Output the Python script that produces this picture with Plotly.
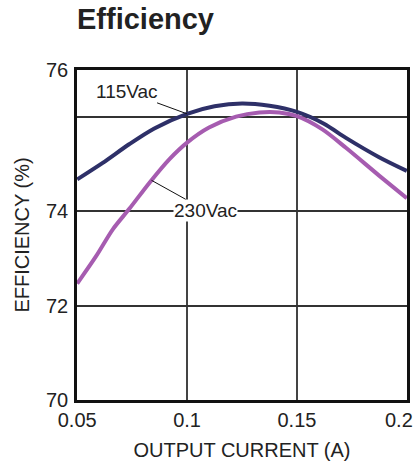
import plotly.graph_objects as go

current_115 = [0.05, 0.0616, 0.0738, 0.0851, 0.1, 0.1125, 0.125, 0.1375, 0.15, 0.1623, 0.1723, 0.1874, 0.2]
eff_115 = [74.68, 75.03, 75.43, 75.76, 76.07, 76.23, 76.29, 76.24, 76.11, 75.86, 75.56, 75.15, 74.86]

current_230 = [0.05, 0.0586, 0.0662, 0.0738, 0.0829, 0.092, 0.1, 0.11, 0.1223, 0.1329, 0.142, 0.15, 0.1616, 0.1723, 0.1874, 0.2]
eff_230 = [72.47, 73.05, 73.62, 74.06, 74.61, 75.11, 75.46, 75.78, 76.01, 76.10, 76.10, 76.02, 75.74, 75.35, 74.76, 74.28]

x_ticks = [0.05, 0.1, 0.15, 0.2]
x_ticktext = ["0.05", "0.1", "0.15", ""]
last_x_tick = "0.2"
y_ticks = [70, 72, 74, 76, 77]
y_ticktext = ["70", "72", "74", "", "76"]

FONT = "Liberation Sans, Arial, sans-serif"

fig = go.Figure()
fig.add_trace(go.Scatter(x=current_115, y=eff_115, mode="lines",
                         line=dict(color="#2e3068", width=4, shape="spline", smoothing=0.8),
                         showlegend=False, hoverinfo="skip"))
fig.add_trace(go.Scatter(x=current_230, y=eff_230, mode="lines",
                         line=dict(color="#a65cb0", width=4, shape="spline", smoothing=0.8),
                         showlegend=False, hoverinfo="skip"))

fig.add_annotation(x=0.1, y=76.07, text="115Vac", showarrow=True, arrowhead=0, arrowwidth=1, arrowcolor="#111",
                   ax=-60, ay=-22, font=dict(size=19, color="#222", family=FONT), bgcolor="white", borderpad=0)
fig.add_annotation(x=0.0838, y=74.66, text="230Vac", showarrow=True, arrowhead=0, arrowwidth=1, arrowcolor="#111",
                   ax=54, ay=30, font=dict(size=19, color="#222", family=FONT), bgcolor="white", borderpad=0)
# last x tick label, right-aligned so it stays inside the picture as in the reference
fig.add_annotation(x=x_ticks[-1], xref="x", y=0, yref="paper", text=last_x_tick, showarrow=False,
                   xanchor="right", yanchor="top", xshift=8, yshift=-7,
                   font=dict(size=20, color="#222", family=FONT))

fig.update_layout(
    width=416, height=464,
    margin=dict(l=77, r=9, t=70, b=64),
    paper_bgcolor="white", plot_bgcolor="white",
    font=dict(family=FONT, color="#222"),
    title=dict(text="<b>Efficiency</b>", x=77/416, xanchor="left", xref="container",
               y=1-19/464, yanchor="middle", yref="container", font=dict(size=29, color="#222", family=FONT)),
    xaxis=dict(range=[0.0499, 0.2001], tickvals=x_ticks, ticktext=x_ticktext, showgrid=True, gridcolor="#444", gridwidth=1.5,
               showline=True, linecolor="#111", linewidth=2.5, mirror=True, zeroline=False, automargin=False,
               ticks="", tickfont=dict(size=20), ticklabeloverflow="allow",
               title=dict(text="OUTPUT CURRENT (A)", font=dict(size=20), standoff=14)),
    yaxis=dict(range=[70, 77], tickvals=y_ticks, ticktext=y_ticktext, showgrid=True, gridcolor="#333", gridwidth=1.5,
               showline=True, linecolor="#111", linewidth=2.5, mirror=True, zeroline=False, automargin=False,
               ticks="outside", ticklen=2, tickcolor="rgba(0,0,0,0)", tickfont=dict(size=20),
               title=dict(text="EFFICIENCY (%)", font=dict(size=20), standoff=12)),
)

fig.write_html("out.html", config={"displayModeBar": False},
               post_script="document.body.style.margin='0';document.body.style.padding='0';")
